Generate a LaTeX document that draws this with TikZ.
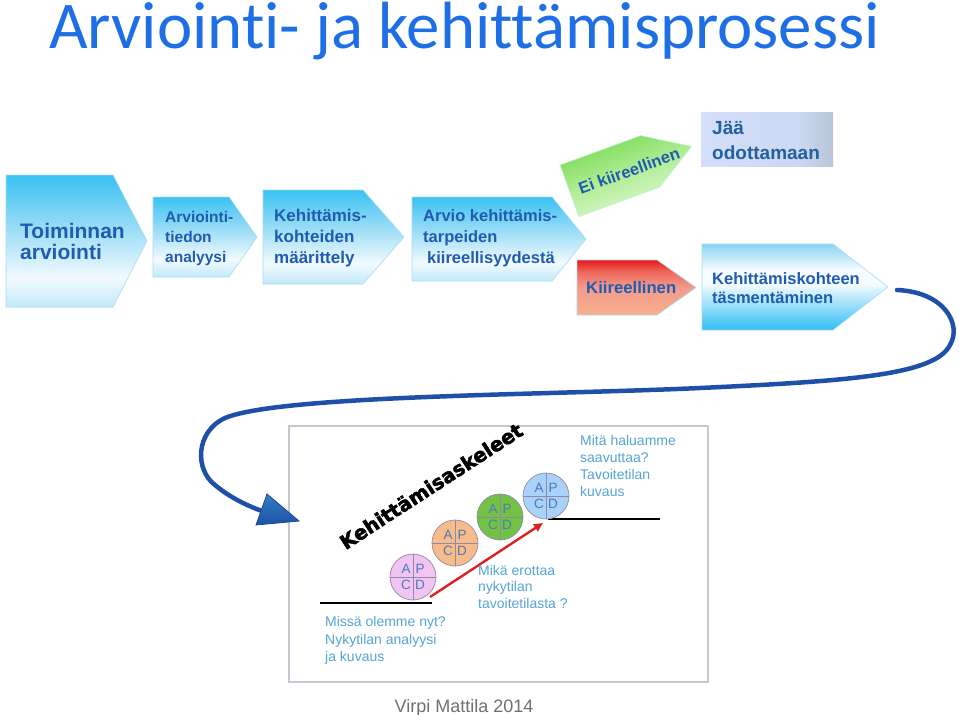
\documentclass[tikz,border=0pt]{standalone}
\usepackage{fontspec}
\setmainfont{Liberation Sans}
\newfontfamily\titlefont{Carlito}[Ligatures={NoCommon,NoRare,NoContextual}]
\newfontfamily\heavyfont{DejaVu Sans}[BoldFeatures={FakeBold=2.5}]
\usetikzlibrary{arrows.meta}

\definecolor{titleblue}{HTML}{1E6FE6}
\definecolor{boxtext}{HTML}{1E5CB0}
\definecolor{jaatext}{HTML}{22609E}
\definecolor{curveblue}{HTML}{1F50A8}
\definecolor{lighttext}{HTML}{55A5D5}
\definecolor{lettblue}{HTML}{4A7AB8}
\definecolor{chevline}{HTML}{A8DCF2}
\definecolor{framegray}{HTML}{C4C8D0}
\definecolor{footgray}{HTML}{707070}
\definecolor{cyTop}{HTML}{38C2F2}
\definecolor{cyMid}{HTML}{9ADCF6}
\definecolor{cyW}{HTML}{F2FAFE}
\definecolor{cyBot}{HTML}{C2EAFA}
\definecolor{cyB2}{HTML}{30BEF2}
\definecolor{cyW2}{HTML}{F6FCFF}
\definecolor{cyT2}{HTML}{8CD4F2}
\definecolor{rdTop}{HTML}{E81818}
\definecolor{rdMid}{HTML}{EE6A5C}
\definecolor{rdLow}{HTML}{F49A8C}
\definecolor{rdBot}{HTML}{F7B08E}
\definecolor{grTop}{HTML}{78DA52}
\definecolor{grMid}{HTML}{B4EE9A}
\definecolor{grBot}{HTML}{E6F9DC}
\definecolor{jaL}{HTML}{D4DEFA}
\definecolor{jaM}{HTML}{CCD8F2}
\definecolor{jaR}{HTML}{B8C4D6}
\definecolor{pinkfill}{HTML}{F2C4F2}
\definecolor{orangefill}{HTML}{F8BC8C}
\definecolor{greenfill}{HTML}{74C244}
\definecolor{bluefill}{HTML}{AAD2F8}
\definecolor{circline}{HTML}{8E8AA8}
\definecolor{redarr}{HTML}{E02020}

\pgfdeclareverticalshading{cyandown}{100bp}{color(0bp)=(cyBot); color(25bp)=(cyBot); color(36bp)=(cyW); color(55bp)=(cyMid); color(75bp)=(cyTop); color(100bp)=(cyTop)}
\pgfdeclareverticalshading{cyanup}{100bp}{color(0bp)=(cyB2); color(25bp)=(cyB2); color(52bp)=(cyW2); color(60bp)=(cyW2); color(75bp)=(cyT2); color(100bp)=(cyT2)}
\pgfdeclareverticalshading{redshade}{100bp}{color(0bp)=(rdBot); color(25bp)=(rdBot); color(50bp)=(rdLow); color(64bp)=(rdMid); color(75bp)=(rdTop); color(100bp)=(rdTop)}
\pgfdeclareverticalshading{greenshade}{100bp}{color(0bp)=(grBot); color(25bp)=(grBot); color(50bp)=(grMid); color(75bp)=(grTop); color(100bp)=(grTop)}
\pgfdeclarehorizontalshading{jaashade}{100bp}{color(0bp)=(jaL); color(25bp)=(jaL); color(62bp)=(jaM); color(75bp)=(jaR); color(100bp)=(jaR)}

% x1, y1, xtip, y2, xbody, shading, tip name
\newcommand{\mychevron}[7]{%
  \shade[shading=#6, draw=chevline, line width=0.6pt]
    (#1,#2) -- (#5,#2) -- (#3,{0.5*(#2+#4)}) -- (#5,#4) -- (#1,#4) -- cycle;
  \coordinate (#7) at (#3,{0.5*(#2+#4)});
}

% name, x, y, fill
\newcommand{\mypdca}[4]{%
  \node[pdcacirc, fill=#4] (#1) at (#2,#3) {};
  \draw[pdcaline] (#1.north) -- (#1.south);
  \draw[pdcaline] (#1.west) -- (#1.east);
  \node[pdcaletter] (#1A) at ([shift={(-7,-8)}]#1.center) {A};
  \node[pdcaletter] (#1P) at ([shift={(7,-8)}]#1.center) {P};
  \node[pdcaletter] (#1C) at ([shift={(-7,8)}]#1.center) {C};
  \node[pdcaletter] (#1D) at ([shift={(7,8)}]#1.center) {D};
}

\tikzset{
  boxlabel/.style={text=boxtext, align=left, anchor=north west, inner sep=0pt},
  lightlabel/.style={text=lighttext, align=left, anchor=north west, inner sep=0pt},
  pdcacirc/.style={circle, minimum size=46pt, inner sep=0pt, draw=circline, line width=0.7pt},
  pdcaline/.style={draw=circline, line width=0.7pt},
  pdcaletter/.style={text=lettblue, inner sep=0pt, font=\fontsize{13.5}{13.5}\selectfont},
  levelline/.style={draw=black, line width=1.6pt},
  bigcurve/.style={draw=curveblue, line width=4.5pt, line cap=round},
  redconn/.style={draw=redarr, line width=2.4pt, -{Triangle[length=9pt,width=8pt]}},
}

\begin{document}
\begin{tikzpicture}[x=1pt,y=-1pt]
\useasboundingbox (0,0) rectangle (959,715);
\fill[white] (0,0) rectangle (959,715);

% Title
\node[anchor=base west, inner sep=0pt, text=titleblue, font=\titlefont\fontsize{66.8}{66.8}\selectfont] (title) at (49,48) {Arviointi- ja kehittämisprosessi};

% Process chevrons
\mychevron{6}{175}{147}{307}{113}{cyandown}{b1tip}
\mychevron{153}{197}{257}{277}{229}{cyandown}{b2tip}
\mychevron{263}{190}{404}{284}{363}{cyandown}{b3tip}
\mychevron{412}{197}{586}{281}{552}{cyandown}{b4tip}
\mychevron{577}{260}{696}{315}{657}{redshade}{redtip}
\mychevron{702}{244}{888}{330}{833}{cyanup}{b7tip}

% Green (rotated) chevron
\shade[shading=greenshade, shading angle=20, draw=chevline!60!green!40, line width=0.6pt]
  (560,165) -- (640.8,135.6) -- (691.6,146.4) -- (659.6,187.3) -- (578.8,216.7) -- cycle;

% Jää odottamaan box
\shade[shading=jaashade] (701,112) rectangle (833,166);

% Box texts
\node[boxlabel, font=\bfseries\fontsize{21}{21}\selectfont] (b1) at (20,223.5) {Toiminnan\\arviointi};
\node[boxlabel, font=\bfseries\fontsize{15.5}{20}\selectfont] (b2) at (165,211) {Arviointi-\\tiedon\\analyysi};
\node[boxlabel, font=\bfseries\fontsize{17}{21}\selectfont] (b3) at (274,209) {Kehittämis-\\kohteiden\\määrittely};
\node[boxlabel, font=\bfseries\fontsize{16.5}{21}\selectfont] (b4) at (423,209) {Arvio kehittämis-\\tarpeiden\\\hspace*{4pt}kiireellisyydestä};
\node[boxlabel, anchor=west, font=\bfseries\fontsize{16.7}{20}\selectfont] (kiir) at (586,288) {Kiireellinen};
\node[boxlabel, font=\bfseries\fontsize{16.5}{19}\selectfont] (b7) at (712,272) {Kehittämiskohteen\\täsmentäminen};
\node[boxlabel, anchor=center, rotate=20, font=\bfseries\fontsize{16.5}{20}\selectfont] (eikiir) at (629,171) {Ei kiireellinen};
\node[boxlabel, text=jaatext, font=\bfseries\fontsize{19}{25}\selectfont] (jaa) at (712,121) {Jää\\odottamaan};

% Inner picture frame
\node[draw=framegray, line width=1.5pt, fill=white, minimum width=419pt, minimum height=256pt, inner sep=0pt, anchor=north west] (steps) at (288,425) {};

% Connector curve to the steps picture
\coordinate (curvestart) at ([xshift=9pt,yshift=-3pt]b7tip);
\coordinate (curveend) at (262,511);
\draw[bigcurve] (curvestart) .. controls (945,292) and (962,325) .. (950,345)
  .. controls (935,375) and (850,381) .. (700,388)
  .. controls (550,395) and (280,395) .. (225,418)
  .. controls (195,432) and (195,470) .. (215,485)
  .. controls (228,496) and (245,505) .. (curveend);
\shade[top color=curveblue!80!cyan!90, bottom color=curveblue, draw=curveblue!90!black, line width=0.8pt]
  (267,494) -- (299,521) -- (256,525) -- cycle;

% Kehittämisaskeleet
\node[inner sep=0pt, rotate=33, font=\heavyfont\bfseries\fontsize{19.6}{20}\selectfont] (askel) at (431,486) {Kehittämisaskeleet};

% Level lines
\coordinate (lowL) at (320,603);
\coordinate (lowR) at (432,603);
\coordinate (highL) at (548,519);
\coordinate (highR) at (660,519);
\draw[levelline] (lowL) -- (lowR);
\draw[levelline] (highL) -- (highR);

% Red arrow
\coordinate (rstart) at (430,597);
\coordinate (rend) at (543,523);
\draw[redconn] (rstart) -- (rend);

% PDCA circles
\mypdca{c1}{413}{577}{pinkfill}
\mypdca{c2}{455}{543}{orangefill}
\mypdca{c3}{500}{517}{greenfill}
\mypdca{c4}{546}{496}{bluefill}

% Light blue texts
\node[lightlabel, font=\fontsize{14}{17}\selectfont] (goal) at (580,435) {Mitä haluamme\\saavuttaa?\\Tavoitetilan\\kuvaus};
\node[lightlabel, font=\fontsize{14}{16.5}\selectfont] (gap) at (478,565) {Mikä erottaa\\nykytilan\\tavoitetilasta ?};
\node[lightlabel, font=\fontsize{14}{17.5}\selectfont] (now) at (325,616.5) {Missä olemme nyt?\\Nykytilan analyysi\\ja kuvaus};

% Footer
\node[anchor=base, inner sep=0pt, text=footgray, font=\fontsize{18}{18}\selectfont] (footer) at (464,712) {Virpi Mattila 2014};
\end{tikzpicture}
\end{document}
